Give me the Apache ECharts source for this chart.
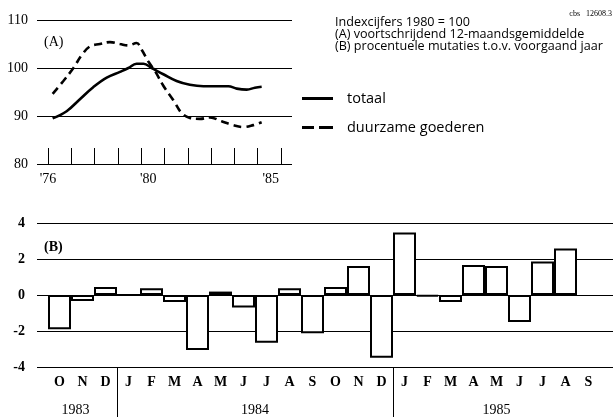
<!DOCTYPE html>
<html>
<head>
<meta charset="utf-8">
<script src="https://cdn.jsdelivr.net/npm/echarts@6/dist/echarts.min.js"></script>
<style>
  html, body { margin: 0; padding: 0; background: #fff; }
  #chart { width: 613px; height: 417px; }
</style>
</head>
<body>
<div id="chart"></div>
<script>
// (A) voortschrijdend 12-maandsgemiddelde, 1980 = 100
const totaalJaar = [1976.2, 1976.8, 1977.37, 1977.94, 1978.52, 1979.09, 1979.45, 1979.8, 1980.1, 1980.45,
  1980.95, 1981.52, 1982.09, 1982.67, 1983.24, 1983.74, 1984.1, 1984.53, 1984.88, 1985.17];
const totaalIndex = [89.5, 91.0, 93.5, 96.0, 98.0, 99.2, 100.0, 100.9, 100.9, 100.0,
  98.7, 97.3, 96.5, 96.2, 96.2, 96.2, 95.7, 95.5, 95.9, 96.1];

const duurzaamJaar = [1976.2, 1976.66, 1977.09, 1977.45, 1977.8, 1978.23, 1978.66, 1979.09, 1979.45, 1979.8,
  1980.02, 1980.3, 1980.6, 1980.95, 1981.38, 1981.74, 1982.09, 1982.52, 1982.95, 1983.45,
  1983.95, 1984.38, 1984.81, 1985.17];
const duurzaamIndex = [94.6, 97.3, 100.0, 102.7, 104.5, 105.0, 105.4, 105.0, 104.7, 105.2,
  103.8, 101.4, 99.3, 96.3, 93.3, 90.6, 89.6, 89.4, 89.7, 88.9,
  88.1, 87.7, 88.1, 88.7];

const jaarLabels = { 1976: "'76", 1980: "'80", 1985: "'85" };

// (B) procentuele mutaties t.o.v. voorgaand jaar, okt 1983 - sep 1985
const maanden = ['O', 'N', 'D', 'J', 'F', 'M', 'A', 'M', 'J', 'J', 'A', 'S',
  'O', 'N', 'D', 'J', 'F', 'M', 'A', 'M', 'J', 'J', 'A', 'S'];
const mutatie = [-1.9, -0.33, 0.44, 0, 0.37, -0.39, -3.06, 0.19, -0.7, -2.65, 0.37, -2.13,
  0.44, 1.61, -3.48, 3.47, -0.09, -0.39, 1.67, 1.61, -1.5, 1.86, 2.59, null];
const jaren = ['1983', '1984', '1985'];
const jaarGrens = [3, 15];          // maand-index waar een nieuw jaar begint
const jaarMidden = [1.2, 9, 19.5];  // plek van de jaartallen

const serif = '"Liberation Serif", "DejaVu Serif", serif';
const sans = '"Open Sans", "Noto Sans", sans-serif';

const chart = echarts.init(document.getElementById('chart'));

const zip = (xs, ys) => xs.map((x, i) => [x, ys[i]]);

chart.setOption({
  animation: false,
  title: [
    { text: '(A)', left: 44, top: 35, padding: 0,
      textStyle: { fontFamily: serif, fontSize: 14, fontWeight: 'normal', color: '#000' } },
    { text: '(B)', left: 44, top: 240, padding: 0,
      textStyle: { fontFamily: serif, fontSize: 14, fontWeight: 'bold', color: '#000' } },
    { text: 'Indexcijfers 1980 = 100\n(A) voortschrijdend 12-maandsgemiddelde\n(B) procentuele mutaties t.o.v. voorgaand jaar',
      left: 335, top: 16, padding: 0,
      textStyle: { fontFamily: sans, fontSize: 12.6, lineHeight: 12, fontWeight: 'normal', color: '#000' } },
    { text: 'cbs   12608.3', right: 1, top: 10, padding: 0,
      textStyle: { fontFamily: serif, fontSize: 8, fontWeight: 'normal', color: '#000' } }
  ],
  legend: {
    orient: 'vertical',
    left: 302,
    top: 91,
    itemWidth: 31,
    itemHeight: 3,
    itemGap: 14,
    padding: 0,
    textStyle: { fontFamily: sans, fontSize: 14.5, color: '#000', padding: [0, 0, 0, 9] },
    data: [
      { name: 'totaal', icon: 'path://M0,0H31V3H0Z' },
      { name: 'duurzame goederen', icon: 'path://M0,0H12V3H0ZM17,0H31V3H17Z' }
    ],
    itemStyle: { color: '#000' }
  },
  grid: [
    { left: 37, top: 20, width: 255, height: 144 },
    { left: 48, top: 20, width: 233, height: 144 },
    { left: 37, top: 223, right: 0, height: 144 },
    { left: 48, top: 223, width: 552, height: 144 }
  ],
  xAxis: [
    { gridIndex: 0, type: 'value', min: 0, max: 1, show: false },
    {
      gridIndex: 1, type: 'value', min: 1976, max: 1986, interval: 1,
      axisLine: { show: false },
      axisTick: { inside: true, length: 16, lineStyle: { color: '#000', width: 1 } },
      splitLine: { show: false },
      axisLabel: {
        margin: 8, color: '#000', fontFamily: serif, fontSize: 14,
        formatter: (v) => {
          if (v === 1980) return '{b|' + jaarLabels[v] + '}';
          if (v === 1985) return '{c|' + jaarLabels[v] + '}';
          return jaarLabels[v] || '';
        },
        rich: {
          b: { fontFamily: serif, fontSize: 14, color: '#000', padding: [0, 0, 0, 14] },
          c: { fontFamily: serif, fontSize: 14, color: '#000', padding: [0, 0, 0, 26] }
        }
      }
    },
    { gridIndex: 2, type: 'value', min: 0, max: 1, show: false },
    {
      gridIndex: 3, type: 'category', data: maanden,
      axisLine: { show: false },
      axisTick: { inside: true, length: 15, interval: 0, lineStyle: { color: '#000', width: 1 } },
      axisLabel: { interval: 0, margin: 8, color: '#000', fontFamily: serif, fontSize: 14, fontWeight: 'bold' }
    },
    {
      gridIndex: 3, type: 'value', min: 0, max: 24, position: 'bottom',
      axisLine: { show: false },
      splitLine: { show: false },
      axisTick: { customValues: jaarGrens, inside: false, length: 50, lineStyle: { color: '#000', width: 1 } },
      axisLabel: {
        customValues: jaarMidden, margin: 36, color: '#000', fontFamily: serif, fontSize: 14,
        formatter: (v) => v < jaarGrens[0] ? jaren[0] : (v < jaarGrens[1] ? jaren[1] : jaren[2])
      }
    }
  ],
  yAxis: [
    {
      gridIndex: 0, type: 'value', min: 80, max: 110, interval: 10,
      axisLine: { show: false }, axisTick: { show: false },
      splitLine: { lineStyle: { color: '#000', width: 1 } },
      axisLabel: { margin: 9, color: '#000', fontFamily: serif, fontSize: 14 }
    },
    { gridIndex: 1, type: 'value', min: 80, max: 110, show: false },
    {
      gridIndex: 2, type: 'value', min: -4, max: 4, interval: 2,
      axisLine: { show: false }, axisTick: { show: false },
      splitLine: { show: true, lineStyle: { color: '#000', width: 1 } },
      axisLabel: { margin: 12, color: '#000', fontFamily: serif, fontSize: 14, fontWeight: 'bold' }
    },
    { gridIndex: 3, type: 'value', min: -4, max: 4, show: false }
  ],
  series: [
    {
      name: 'totaal', type: 'line', xAxisIndex: 1, yAxisIndex: 1,
      data: zip(totaalJaar, totaalIndex), smooth: 0.4, symbol: 'none',
      lineStyle: { color: '#000', width: 2.6 }, itemStyle: { color: '#000' }
    },
    {
      name: 'duurzame goederen', type: 'line', xAxisIndex: 1, yAxisIndex: 1,
      data: zip(duurzaamJaar, duurzaamIndex), smooth: 0.4, symbol: 'none',
      lineStyle: { color: '#000', width: 2.6, type: [8, 5] }, itemStyle: { color: '#000' }
    },
    {
      name: 'mutatie', type: 'bar', xAxisIndex: 3, yAxisIndex: 3,
      data: mutatie, barCategoryGap: '0%',
      itemStyle: { color: '#fff', borderColor: '#000', borderWidth: 2 }
    }
  ]
});
</script>
</body>
</html>
